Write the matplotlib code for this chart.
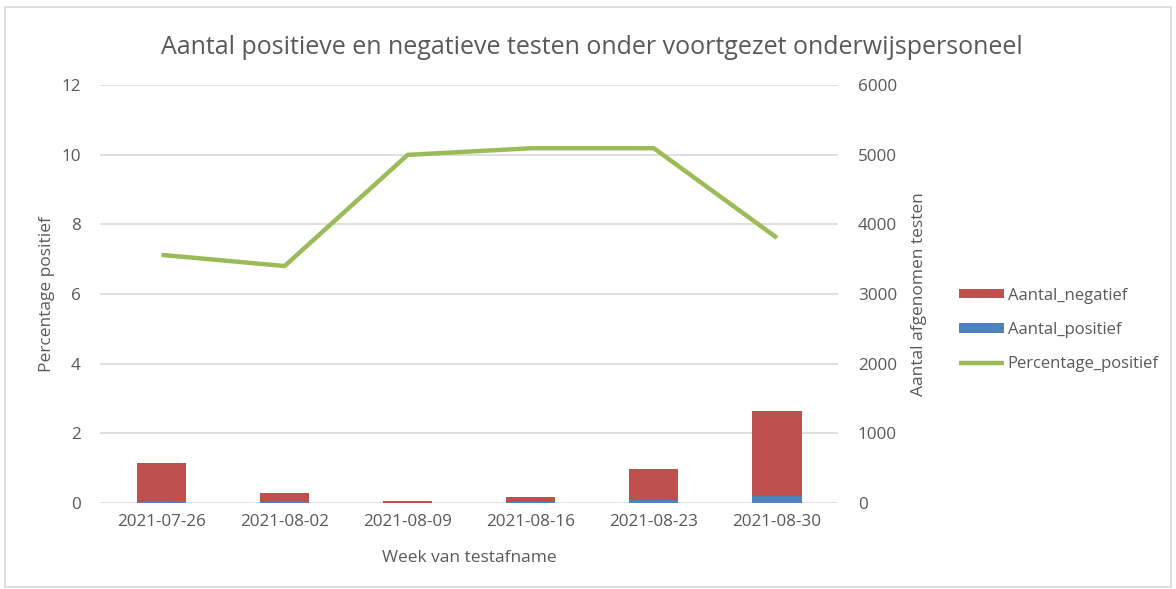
import numpy as np
from matplotlib import pyplot as plt
from matplotlib.patches import Rectangle

weeks = ['2021-07-26', '2021-08-02', '2021-08-09', '2021-08-16', '2021-08-23', '2021-08-30']
aantal_positief = [15, 8, 3, 8, 48, 100]
aantal_negatief = [555, 132, 27, 77, 437, 1225]
percentage_positief = [7.12, 6.80, 9.99, 10.18, 10.18, 7.61]

plt.rcParams['font.family'] = ['Open Sans', 'DejaVu Sans']
GRAY = '#595959'

fig = plt.figure(figsize=(11.76, 5.89), dpi=100)
fig.patches.append(Rectangle((0.004, 0.003), 0.992, 0.985, transform=fig.transFigure,
                             fill=False, edgecolor='#d9d9d9', linewidth=1.2))

ax = fig.add_axes([0.085, 0.146, 0.628, 0.71])
ax2 = ax.twinx()

x = np.arange(len(weeks))
ax2.bar(x, aantal_positief, width=0.4, color='#4F81BD', label='Aantal_positief', zorder=2)
ax2.bar(x, aantal_negatief, width=0.4, bottom=aantal_positief, color='#C0504D',
        label='Aantal_negatief', zorder=2)

# line on the left axis, drawn above the bars
ax.set_zorder(ax2.get_zorder() + 1)
ax.patch.set_visible(False)
ax.plot(x, percentage_positief, color='#9BBB59', linewidth=3.2, label='Percentage_positief',
        solid_capstyle='butt')

ax.set_ylim(0, 12)
ax.set_yticks(range(0, 13, 2))
ax2.set_ylim(0, 6000)
ax2.set_yticks(range(0, 6001, 1000))
ax.set_xlim(-0.5, 5.5)
ax.set_xticks(x)
ax.set_xticklabels(weeks)

for a in (ax, ax2):
    for s in a.spines.values():
        s.set_visible(False)
    a.tick_params(length=0, colors=GRAY, labelsize=12.3)
ax.tick_params(axis='y', pad=14)
ax2.tick_params(axis='y', pad=14)
ax.tick_params(axis='x', pad=8)

ax2.grid(axis='y', color='#d9d9d9', linewidth=1.2, zorder=0)
ax2.set_axisbelow(True)

ax.set_ylabel('Percentage positief', color=GRAY, fontsize=12.5, labelpad=4)
ax2.set_ylabel('Aantal afgenomen testen', color=GRAY, fontsize=12.5, labelpad=10)
ax.set_xlabel('Week van testafname', color=GRAY, fontsize=12.5, labelpad=14)

fig.suptitle('Aantal positieve en negatieve testen onder voortgezet onderwijspersoneel',
             x=0.503, y=0.94, color=GRAY, fontsize=18)

h2, l2 = ax2.get_legend_handles_labels()
h1, l1 = ax.get_legend_handles_labels()
handles = [h2[1], h2[0], h1[0]]
labels = [l2[1], l2[0], l1[0]]
fig.legend(handles, labels, loc='center left', bbox_to_anchor=(0.803, 0.44), frameon=False,
           fontsize=12, labelcolor=GRAY, handlelength=2.7, handleheight=0.5,
           handletextpad=0.2, labelspacing=1.1)

plt.savefig('out.png', dpi=100)
